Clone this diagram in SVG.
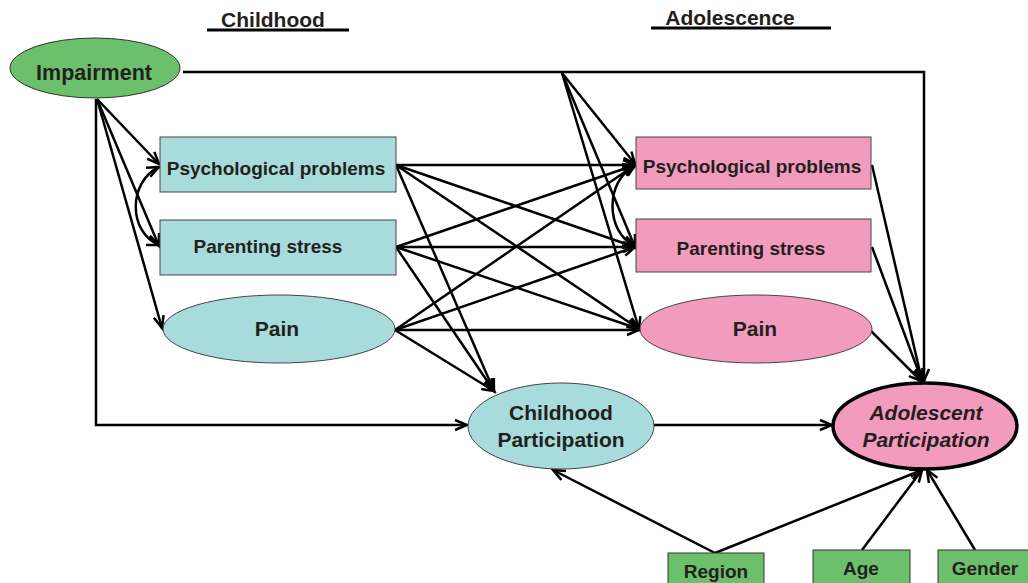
<svg xmlns="http://www.w3.org/2000/svg" width="1028" height="583" viewBox="0 0 1028 583">
<style>
text{font-family:"Liberation Sans",Arial,sans-serif;font-weight:bold;fill:#231f20;text-anchor:middle}
.green{fill:#6cc06b;stroke:#333;stroke-width:1}
.cyan{fill:#a8dcdc;stroke:#444;stroke-width:1}
.pink{fill:#f29bbd;stroke:#444;stroke-width:1}
.thick{stroke:#000;stroke-width:3.5}
.c{fill:none;stroke:#000;stroke-width:2.5}
.a{marker-end:url(#ah)}
.hdr{stroke:#000;stroke-width:3}
</style>
<defs>
<marker id="ah" markerUnits="userSpaceOnUse" markerWidth="16" markerHeight="16" refX="13" refY="6" orient="auto-start-reverse" viewBox="0 0 16 12">
<path d="M1,1 L13,6 L1,11" fill="none" stroke="#000" stroke-width="2.5"/>
</marker>
</defs>
<g id="headers">
<text x="273" y="27" font-size="21">Childhood</text>
<line class="hdr" x1="207" y1="30" x2="349" y2="30"/>
<text x="730" y="25" font-size="21">Adolescence</text>
<line class="hdr" x1="651" y1="28" x2="831" y2="28"/>
</g>
<g id="connectors">
<polyline class="c a" points="183,72 924,72 924,381"/>
<polyline class="c a" points="96,99 96,425 467,425"/>
<line class="c a" x1="97" y1="99" x2="159" y2="164"/>
<line class="c a" x1="97" y1="99" x2="159" y2="246"/>
<line class="c a" x1="97" y1="99" x2="162" y2="328"/>
<path class="c" d="M159,167 C128,182 128,232 159,245" marker-start="url(#ah)" marker-end="url(#ah)"/>
<path class="c" d="M635,166 C605,180 605,232 635,246" marker-start="url(#ah)" marker-end="url(#ah)"/>
<line class="c a" x1="562" y1="73" x2="635" y2="164"/>
<line class="c a" x1="562" y1="73" x2="635" y2="247"/>
<line class="c a" x1="562" y1="73" x2="639" y2="329"/>
<line class="c a" x1="396" y1="165" x2="635" y2="165"/>
<line class="c a" x1="396" y1="165" x2="635" y2="247"/>
<line class="c a" x1="396" y1="165" x2="639" y2="329"/>
<line class="c a" x1="396" y1="165" x2="494" y2="391"/>
<line class="c a" x1="396" y1="247" x2="635" y2="165"/>
<line class="c a" x1="396" y1="247" x2="635" y2="247"/>
<line class="c a" x1="396" y1="247" x2="639" y2="329"/>
<line class="c a" x1="396" y1="247" x2="494" y2="391"/>
<line class="c a" x1="395" y1="330" x2="635" y2="165"/>
<line class="c a" x1="395" y1="330" x2="635" y2="247"/>
<line class="c a" x1="395" y1="330" x2="639" y2="330"/>
<line class="c a" x1="395" y1="330" x2="494" y2="391"/>
<line class="c a" x1="872" y1="165" x2="922" y2="381"/>
<line class="c a" x1="872" y1="247" x2="922" y2="381"/>
<line class="c a" x1="871" y1="331" x2="921" y2="381"/>
<line class="c a" x1="654" y1="425" x2="832" y2="425"/>
<line class="c a" x1="715" y1="553" x2="553" y2="470"/>
<line class="c a" x1="715" y1="553" x2="922" y2="470"/>
<line class="c a" x1="862" y1="550" x2="922" y2="470"/>
<line class="c a" x1="975" y1="550" x2="927" y2="470"/>
</g>
<g id="impairment">
<ellipse class="green" cx="95" cy="68" rx="85" ry="30"/>
<text x="94" y="80" font-size="21.5">Impairment</text>
</g>
<g id="c-psych">
<rect class="cyan" x="160" y="137" width="236" height="55"/>
<text x="276" y="175" font-size="19">Psychological problems</text>
</g>
<g id="c-parenting">
<rect class="cyan" x="160" y="220" width="236" height="55"/>
<text x="268" y="253" font-size="19">Parenting stress</text>
</g>
<g id="c-pain">
<ellipse class="cyan" cx="279" cy="329" rx="116" ry="34"/>
<text x="277" y="336" font-size="21">Pain</text>
</g>
<g id="c-part">
<ellipse class="cyan" cx="561" cy="426" rx="93" ry="43"/>
<text x="561" y="420" font-size="21">Childhood</text>
<text x="561" y="447" font-size="21">Participation</text>
</g>
<g id="a-psych">
<rect class="pink" x="636" y="137" width="235" height="52"/>
<text x="752" y="173" font-size="19">Psychological problems</text>
</g>
<g id="a-parenting">
<rect class="pink" x="636" y="219" width="235" height="53"/>
<text x="751" y="255" font-size="19">Parenting stress</text>
</g>
<g id="a-pain">
<ellipse class="pink" cx="756" cy="329" rx="116" ry="34"/>
<text x="755" y="336" font-size="21">Pain</text>
</g>
<g id="a-part">
<ellipse class="pink thick" cx="925" cy="426" rx="92" ry="43"/>
<text x="926" y="420" font-size="21" font-style="italic">Adolescent</text>
<text x="926" y="447" font-size="21" font-style="italic">Participation</text>
</g>
<g id="region">
<rect class="green" x="668" y="553" width="96" height="34"/>
<text x="716" y="578" font-size="19">Region</text>
</g>
<g id="age">
<rect class="green" x="813" y="550" width="97" height="37"/>
<text x="861" y="575" font-size="19">Age</text>
</g>
<g id="gender">
<rect class="green" x="938" y="550" width="94" height="37"/>
<text x="985" y="575" font-size="19">Gender</text>
</g>
</svg>
